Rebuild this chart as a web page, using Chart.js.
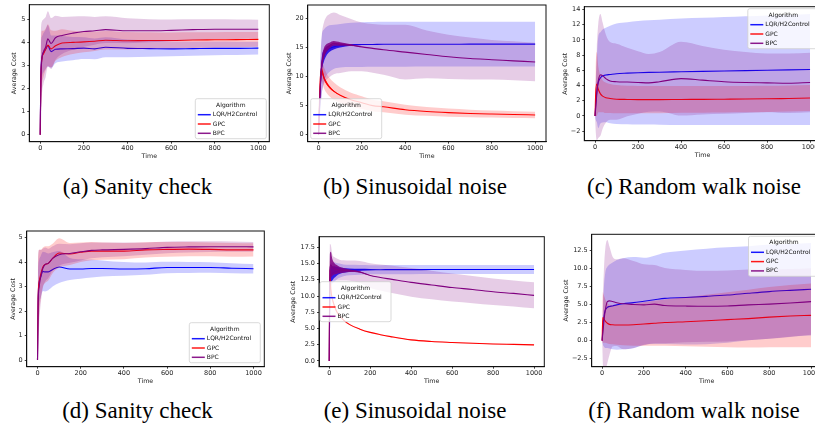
<!DOCTYPE html>
<html>
<head>
<meta charset="utf-8">
<script src="https://cdn.jsdelivr.net/npm/chart.js@4.4.1/dist/chart.umd.min.js"></script>
<style>
  html, body { margin: 0; padding: 0; background: #fff; width: 815px; height: 425px; overflow: hidden; }
  .plot { position: absolute; }
  .cap {
    position: absolute; transform: translateX(-50%); white-space: nowrap; color: #000;
    font-family: "Liberation Serif", "Times New Roman", serif; font-size: 23px; line-height: 23px;
  }
</style>
</head>
<body>
<canvas id="plotA" class="plot"></canvas>
<canvas id="plotB" class="plot"></canvas>
<canvas id="plotC" class="plot"></canvas>
<canvas id="plotD" class="plot"></canvas>
<canvas id="plotE" class="plot"></canvas>
<canvas id="plotF" class="plot"></canvas>

<div class="cap" style="left:137.5px; top:174.7px">(a) Sanity check</div>
<div class="cap" style="left:415px; top:174.7px">(b) Sinusoidal noise</div>
<div class="cap" style="left:694px; top:174.7px">(c) Random walk noise</div>
<div class="cap" style="left:137.5px; top:398.7px">(d) Sanity check</div>
<div class="cap" style="left:415px; top:398.7px">(e) Sinusoidal noise</div>
<div class="cap" style="left:694px; top:398.7px">(f) Random walk noise</div>

<script>
const TIME = [0, 3, 8, 15, 25, 35, 50, 70, 100, 150, 200, 250, 300, 400, 500, 600, 700, 800, 900, 1000];
const X_TICKS = [0, 200, 400, 600, 800, 1000];
const SERIES_NAMES = ['LQR/H2Control', 'GPC', 'BPC'];

// (a) Sanity check: mean and spread
const A_LQR    = [0, 2.6, 3.35, 3.55, 3.7, 3.85, 3.6, 3.7, 3.72, 3.73, 3.75, 3.72, 3.79, 3.74, 3.73, 3.72, 3.73, 3.74, 3.74, 3.75];
const A_LQR_SD = [0, 1.2, 0.9, 0.85, 0.85, 0.9, 0.7, 0.6, 0.55, 0.5, 0.47, 0.45, 0.43, 0.38, 0.35, 0.32, 0.31, 0.3, 0.29, 0.28];
const A_GPC    = [0, 2.4, 3.3, 3.5, 3.7, 3.88, 3.72, 3.85, 3.97, 4.0, 4.02, 4.05, 4.09, 4.07, 4.08, 4.08, 4.1, 4.11, 4.12, 4.13];
const A_GPC_SD = [0, 1.5, 1.2, 1.0, 0.9, 0.9, 0.8, 0.65, 0.6, 0.5, 0.45, 0.42, 0.4, 0.38, 0.36, 0.35, 0.34, 0.33, 0.33, 0.32];
const A_BPC    = [0, 2.3, 3.3, 3.6, 3.8, 4.15, 3.95, 4.2, 4.3, 4.4, 4.47, 4.5, 4.55, 4.5, 4.5, 4.52, 4.55, 4.57, 4.57, 4.57];
const A_BPC_SD = [0, 2.0, 1.6, 1.4, 1.3, 1.2, 1.1, 0.95, 0.8, 0.72, 0.66, 0.6, 0.58, 0.54, 0.5, 0.47, 0.45, 0.43, 0.42, 0.41];
const A_Y_TICKS = [0, 1, 2, 3, 4, 5];

// (b) Sinusoidal noise (OSC = half width of the early oscillation)
const B_LQR     = [0, 3, 8, 12, 13.6, 14.3, 14.8, 15.1, 15.3, 15.45, 15.5, 15.52, 15.55, 15.55, 15.56, 15.56, 15.57, 15.57, 15.58, 15.58];
const B_LQR_SD  = [0, 1.5, 4.0, 5.0, 4.5, 4.2, 4.0, 3.8, 3.75, 3.8, 3.85, 3.85, 3.85, 3.85, 3.85, 3.85, 3.85, 3.85, 3.85, 3.85];
const B_LQR_OSC = [0, 0.5, 1.0, 1.2, 1.0, 0.8, 0.6, 0.45, 0.3, 0.15, 0, 0, 0, 0, 0, 0, 0, 0, 0, 0];
const B_GPC     = [0, 4, 9.5, 11, 9.8, 9.0, 8.2, 7.5, 6.8, 6.0, 5.5, 5.0, 4.8, 4.3, 4.0, 3.8, 3.65, 3.55, 3.47, 3.4];
const B_GPC_SD  = [0, 1, 1.5, 1.8, 1.8, 1.7, 1.6, 1.5, 1.35, 1.2, 1.1, 1.0, 0.95, 0.85, 0.75, 0.7, 0.65, 0.6, 0.58, 0.55];
const B_GPC_OSC = [0, 0.3, 0.8, 0.6, 0.4, 0.3, 0.2, 0.1, 0, 0, 0, 0, 0, 0, 0, 0, 0, 0, 0, 0];
const B_BPC     = [0, 3.5, 8, 12, 14.0, 14.8, 15.3, 15.7, 15.6, 15.4, 15.1, 14.85, 14.6, 14.2, 13.8, 13.4, 13.1, 12.9, 12.7, 12.5];
const B_BPC_SD  = [0, 2, 4, 5, 5.3, 5.4, 5.4, 5.3, 5.0, 4.5, 4.2, 4.2, 4.3, 4.7, 4.1, 3.8, 3.6, 3.4, 3.35, 3.3];
const B_BPC_OSC = [0, 0.5, 1.0, 1.0, 0.9, 0.7, 0.5, 0.4, 0.3, 0.15, 0, 0, 0, 0, 0, 0, 0, 0, 0, 0];
const B_Y_TICKS = [0, 5, 10, 15, 20];

// (c) Random walk noise
const C_LQR    = [0, 1.5, 3.2, 4.4, 5.0, 5.25, 5.38, 5.45, 5.55, 5.62, 5.68, 5.72, 5.75, 5.8, 5.85, 5.9, 5.95, 6.0, 6.05, 6.1];
const C_LQR_SD = [0, 2, 4, 6.0, 6.0, 6.1, 6.2, 6.4, 6.6, 6.7, 6.8, 6.85, 6.9, 7.0, 7.05, 7.1, 7.15, 7.2, 7.25, 7.3];
const C_GPC    = [0, 3.0, 4.2, 3.5, 2.9, 2.6, 2.4, 2.3, 2.2, 2.17, 2.15, 2.15, 2.15, 2.17, 2.18, 2.2, 2.22, 2.25, 2.3, 2.35];
const C_GPC_SD = [0, 3, 4.2, 3.0, 2.4, 2.1, 2.0, 1.9, 1.85, 1.8, 1.8, 1.8, 1.78, 1.76, 1.75, 1.74, 1.73, 1.72, 1.71, 1.7];
const C_BPC    = [0, 1.0, 2.8, 4.6, 5.4, 5.3, 4.9, 4.6, 4.5, 4.45, 4.4, 4.35, 4.5, 4.9, 4.7, 4.5, 4.4, 4.35, 4.3, 4.4];
const C_BPC_SD = [0, 3, 6, 7.5, 8.0, 7.0, 5.8, 5.1, 5.0, 4.5, 4.1, 3.8, 3.9, 4.85, 4.5, 4.2, 4.0, 3.85, 3.9, 3.9];
const C_Y_TICKS = [-2, 0, 2, 4, 6, 8, 10, 12, 14];

// (d) Sanity check
const D_LQR    = [0, 2.5, 3.2, 3.4, 3.62, 3.6, 3.6, 3.7, 3.8, 3.72, 3.72, 3.74, 3.74, 3.72, 3.73, 3.78, 3.78, 3.78, 3.75, 3.73];
const D_LQR_SD = [0, 1.0, 0.9, 0.85, 0.8, 0.8, 0.75, 0.7, 0.65, 0.45, 0.4, 0.37, 0.33, 0.28, 0.25, 0.23, 0.22, 0.21, 0.2, 0.19];
const D_GPC    = [0, 2.6, 3.2, 3.5, 3.8, 3.9, 3.95, 4.15, 4.37, 4.33, 4.4, 4.45, 4.45, 4.45, 4.5, 4.52, 4.53, 4.52, 4.5, 4.5];
const D_GPC_SD = [0, 1.5, 1.3, 1.0, 0.8, 0.75, 0.7, 0.6, 0.6, 0.45, 0.4, 0.37, 0.35, 0.33, 0.31, 0.3, 0.29, 0.28, 0.28, 0.27];
const D_BPC    = [0, 2.3, 3.0, 3.4, 3.75, 3.9, 3.95, 4.15, 4.3, 4.35, 4.42, 4.48, 4.5, 4.52, 4.55, 4.6, 4.62, 4.63, 4.63, 4.62];
const D_BPC_SD = [0, 2.0, 1.5, 1.1, 0.8, 0.7, 0.6, 0.5, 0.45, 0.38, 0.35, 0.32, 0.3, 0.28, 0.25, 0.24, 0.23, 0.22, 0.21, 0.2];
const D_Y_TICKS = [0, 1, 2, 3, 4, 5];

// (e) Sinusoidal noise
const E_LQR     = [0, 11, 13.2, 13.5, 13.7, 13.8, 13.9, 13.95, 14.0, 14.03, 14.05, 14.05, 14.06, 14.06, 14.07, 14.07, 14.07, 14.08, 14.08, 14.08];
const E_LQR_SD  = [0, 2, 1.8, 1.6, 1.5, 1.3, 1.1, 0.9, 0.8, 0.75, 0.7, 0.7, 0.7, 0.7, 0.7, 0.7, 0.7, 0.7, 0.7, 0.7];
const E_LQR_OSC = [0, 1.5, 1.3, 1.1, 0.9, 0.7, 0.5, 0.35, 0.25, 0.15, 0.1, 0, 0, 0, 0, 0, 0, 0, 0, 0];
const E_GPC     = [0, 14, 11, 9.6, 8.5, 7.7, 7.0, 6.3, 5.6, 4.9, 4.4, 4.05, 3.75, 3.25, 3.0, 2.85, 2.72, 2.62, 2.55, 2.48];
const E_GPC_SD  = [0, 1.5, 0.5, 0.3, 0.2, 0.15, 0.12, 0.1, 0.08, 0.08, 0.08, 0.08, 0.08, 0.08, 0.08, 0.08, 0.08, 0.08, 0.08, 0.08];
const E_BPC     = [0, 14, 14.8, 14.4, 14.2, 14.1, 14.0, 13.95, 13.9, 13.7, 13.15, 12.85, 12.6, 12.1, 11.7, 11.3, 11.0, 10.65, 10.4, 10.1];
const E_BPC_SD  = [0, 4, 3, 2, 1.8, 1.7, 1.6, 1.55, 1.55, 1.7, 1.9, 2.0, 2.1, 2.2, 2.2, 2.15, 2.1, 2.05, 2.0, 2.0];
const E_BPC_OSC = [0, 2.5, 2.0, 1.3, 0.9, 0.7, 0.5, 0.35, 0.2, 0.1, 0, 0, 0, 0, 0, 0, 0, 0, 0, 0];
const E_Y_TICKS = [0, 2.5, 5, 7.5, 10, 12.5, 15, 17.5];

// (f) Random walk noise
const F_LQR    = [0, 1.5, 3.2, 4.2, 4.6, 4.72, 4.8, 4.95, 5.1, 5.25, 5.45, 5.65, 5.85, 5.97, 6.12, 6.3, 6.55, 6.78, 6.95, 7.1];
const F_LQR_SD = [0, 2, 4, 5.2, 5.6, 5.8, 6.0, 6.2, 6.3, 6.3, 6.0, 6.1, 6.3, 6.5, 6.6, 6.6, 6.5, 6.5, 6.4, 6.4];
const F_GPC    = [0, 3.2, 3.0, 2.7, 2.4, 2.25, 2.2, 2.17, 2.17, 2.2, 2.3, 2.4, 2.5, 2.62, 2.75, 2.9, 3.05, 3.25, 3.4, 3.5];
const F_GPC_SD = [0, 3.5, 3.3, 3.0, 2.8, 2.7, 2.7, 2.75, 2.8, 2.9, 3.0, 3.1, 3.2, 3.4, 3.6, 3.8, 4.0, 4.15, 4.3, 4.4];
const F_BPC    = [0, 1.0, 2.5, 4.2, 5.4, 5.5, 5.4, 5.25, 5.1, 5.0, 4.95, 5.05, 4.85, 4.78, 4.75, 4.8, 4.95, 5.05, 5.2, 5.4];
const F_BPC_SD = [0, 4, 7, 8.5, 8.5, 7.5, 6.2, 6.0, 6.3, 6.0, 5.6, 5.4, 5.2, 5.0, 4.9, 4.9, 4.9, 4.8, 4.7, 4.6];
const F_Y_TICKS = [-2.5, 0, 2.5, 5, 7.5, 10, 12.5];


// Styles
const COLORS = { 'LQR/H2Control': [0, 0, 255], 'GPC': [255, 0, 0], 'BPC': [128, 0, 128] };
const rgba = (c, a) => `rgba(${c[0]},${c[1]},${c[2]},${a})`;
const FONT = '"DejaVu Sans", sans-serif';

Chart.defaults.font.family = FONT;
Chart.defaults.font.size = 6.5;
Chart.defaults.color = '#222';

// Box around the plotting area, like matplotlib spines
const framePlugin = {
    id: 'frame',
    afterDatasetsDraw(chart) {
        const { ctx, chartArea: a } = chart;
        ctx.save();
        ctx.strokeStyle = '#111';
        ctx.lineWidth = 1;
        ctx.strokeRect(a.left, a.top, a.right - a.left, a.bottom - a.top);
        ctx.restore();
    }
};

// Seaborn style legend with the "Algorithm" header
const legendPlugin = {
    id: 'mplLegend',
    afterDraw(chart, args, opts) {
        const { ctx, chartArea: a } = chart;
        const w = 71, h = 40, pad = opts.pad;
        const x = opts.loc.includes('right') ? a.right - pad - w : a.left + pad;
        let y;
        if (opts.loc.startsWith('lower')) y = a.bottom - pad - h;
        else if (opts.loc.startsWith('upper')) y = a.top + pad;
        else y = (a.top + a.bottom) / 2 - h / 2;

        ctx.save();
        ctx.fillStyle = 'rgba(255,255,255,0.8)';
        ctx.strokeStyle = '#cfcfcf';
        ctx.lineWidth = 0.8;
        ctx.beginPath();
        ctx.roundRect(x, y, w, h, 2);
        ctx.fill();
        ctx.stroke();

        ctx.font = '6px ' + FONT;
        ctx.fillStyle = '#111';
        ctx.textBaseline = 'middle';
        ctx.textAlign = 'center';
        ctx.fillText('Algorithm', x + w / 2, y + 6.5);
        ctx.textAlign = 'left';
        SERIES_NAMES.forEach((name, i) => {
            const yy = y + 16 + i * 9.3;
            ctx.strokeStyle = rgba(COLORS[name], 0.9);
            ctx.lineWidth = 1.5;
            ctx.beginPath();
            ctx.moveTo(x + 2.5, yy);
            ctx.lineTo(x + 15.5, yy);
            ctx.stroke();
            ctx.fillText(name, x + 17.5, yy);
        });
        ctx.restore();
    }
};

const points = (ys) => TIME.map((t, i) => ({ x: t, y: ys[i] }));
const shifted = (mean, d, sign) => mean.map((m, i) => m + sign * d[i]);

function buildDatasets(series) {
    const sets = [];
    const base = { pointRadius: 0, cubicInterpolationMode: 'monotone' };
    series.forEach(s => {
        const c = COLORS[s.name];
        sets.push({ ...base, data: points(shifted(s.mean, s.sd, -1)), borderWidth: 0, fill: false });
        sets.push({ ...base, data: points(shifted(s.mean, s.sd, 1)), borderWidth: 0, fill: '-1', backgroundColor: rgba(c, 0.2) });
        if (s.osc) {
            sets.push({ ...base, data: points(shifted(s.mean, s.osc, -1)), borderWidth: 0, fill: false });
            sets.push({ ...base, data: points(shifted(s.mean, s.osc, 1)), borderWidth: 0, fill: '-1', backgroundColor: rgba(c, 0.85) });
        }
        sets.push({ ...base, label: s.name, data: points(s.mean), borderColor: rgba(c, 1), borderWidth: 1.1, fill: false });
    });
    // later datasets drawn on top
    sets.forEach((d, k) => { d.order = -k; });
    return sets;
}

function tickLabel(v, decimals) {
    return (v < 0 ? '\u2212' : '') + Math.abs(v).toFixed(decimals);
}

function drawPanel(id, area, titleX, yMin, yMax, yTicks, decimals, series, legendLoc, legendPad) {
    const canvas = document.getElementById(id);
    const L = Math.round(titleX - 3.8);
    const T = Math.floor(area.t - 7);
    const R = Math.ceil(area.r + 4);
    const B = Math.ceil(area.b + 18.1);
    canvas.width = R - L;
    canvas.height = B - T;
    canvas.style.left = L + 'px';
    canvas.style.top = T + 'px';
    canvas.style.width = (R - L) + 'px';
    canvas.style.height = (B - T) + 'px';

    const tickGrid = { drawOnChartArea: false, drawTicks: true, tickLength: 2, color: '#111', lineWidth: 0.8 };

    new Chart(canvas, {
        type: 'line',
        data: { datasets: buildDatasets(series) },
        plugins: [framePlugin, legendPlugin],
        options: {
            responsive: false,
            animation: false,
            devicePixelRatio: 1,
            layout: { padding: { left: 0, top: area.t - T, right: R - area.r, bottom: 0 } },
            plugins: {
                legend: { display: false },
                tooltip: { enabled: false },
                mplLegend: { loc: legendLoc, pad: legendPad }
            },
            scales: {
                x: {
                    type: 'linear',
                    min: -50,
                    max: 1050,
                    afterBuildTicks: (scale) => { scale.ticks = X_TICKS.map(v => ({ value: v })); },
                    afterFit: (scale) => { scale.height = B - area.b; },
                    ticks: { padding: 1, maxRotation: 0, autoSkip: false, callback: (v) => String(v) },
                    grid: tickGrid,
                    border: { display: true, color: '#111', width: 1 },
                    title: { display: true, text: 'Time', font: { size: 6.3 }, padding: { top: 0, bottom: 0 } }
                },
                y: {
                    type: 'linear',
                    min: yMin,
                    max: yMax,
                    afterBuildTicks: (scale) => { scale.ticks = yTicks.map(v => ({ value: v })); },
                    afterFit: (scale) => { scale.width = area.l - L; },
                    ticks: { padding: 2, autoSkip: false, callback: (v) => tickLabel(v, decimals) },
                    grid: tickGrid,
                    border: { display: true, color: '#111', width: 1 },
                    title: { display: true, text: 'Average Cost', font: { size: 6.3 }, padding: { top: 0, bottom: 0 } }
                }
            }
        }
    });
}

function trio(lqr, lqrSd, gpc, gpcSd, bpc, bpcSd, osc) {
    return [
        { name: 'LQR/H2Control', mean: lqr, sd: lqrSd, osc: osc && osc[0] },
        { name: 'GPC', mean: gpc, sd: gpcSd, osc: osc && osc[1] },
        { name: 'BPC', mean: bpc, sd: bpcSd, osc: osc && osc[2] }
    ];
}

drawPanel('plotA', { l: 29.3, t: 4.7, r: 269.3, b: 141.7 }, 15, -0.3, 5.63, A_Y_TICKS, 0,
    trio(A_LQR, A_LQR_SD, A_GPC, A_GPC_SD, A_BPC, A_BPC_SD), 'lower right', 3);
drawPanel('plotB', { l: 307.7, t: 5, r: 546, b: 141.7 }, 290, -1.2, 22.3, B_Y_TICKS, 0,
    trio(B_LQR, B_LQR_SD, B_GPC, B_GPC_SD, B_BPC, B_BPC_SD, [B_LQR_OSC, B_GPC_OSC, B_BPC_OSC]), 'lower left', 3);
drawPanel('plotC', { l: 584.3, t: 6.7, r: 820.8, b: 140.7 }, 566, -3.25, 14.35, C_Y_TICKS, 0,
    trio(C_LQR, C_LQR_SD, C_GPC, C_GPC_SD, C_BPC, C_BPC_SD), 'upper right', 2);
drawPanel('plotD', { l: 26.7, t: 231, r: 264.3, b: 366.7 }, 14, -0.27, 5.27, D_Y_TICKS, 0,
    trio(D_LQR, D_LQR_SD, D_GPC, D_GPC_SD, D_BPC, D_BPC_SD), 'lower right', 4);
drawPanel('plotE', { l: 319, t: 236.7, r: 544.3, b: 366.7 }, 294, -0.88, 19.13, E_Y_TICKS, 1,
    trio(E_LQR, E_LQR_SD, E_GPC, E_GPC_SD, E_BPC, E_BPC_SD, [E_LQR_OSC, null, E_BPC_OSC]), 'center left', 1);
drawPanel('plotF', { l: 591.7, t: 234.3, r: 821.5, b: 366.7 }, 567, -3.6, 14.7, F_Y_TICKS, 1,
    trio(F_LQR, F_LQR_SD, F_GPC, F_GPC_SD, F_BPC, F_BPC_SD), 'upper right', 2);
</script>
</body>
</html>
